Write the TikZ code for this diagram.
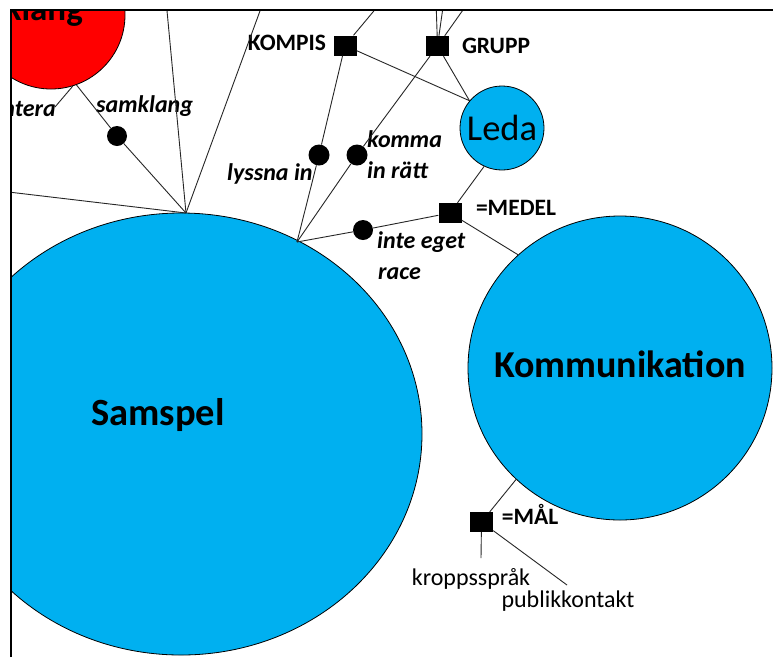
\documentclass[tikz,border=0pt]{standalone}
\usepackage{fontspec}
\setmainfont{Carlito}
\usetikzlibrary{shapes.geometric}
\definecolor{cblue}{HTML}{00B0F0}
\definecolor{cred}{HTML}{FF0000}
\begin{document}
\begin{tikzpicture}[x=1pt,y=-1pt,
  ln/.style={draw=black!85, line width=0.9pt},
  bigc/.style={circle, draw=black, line width=0.8pt, fill=cblue, inner sep=0pt},
  sq/.style={fill=black, minimum width=23pt, minimum height=20pt, inner sep=0pt},
  dotn/.style={circle, fill=black, minimum size=20pt, inner sep=0pt},
  lab/.style={font=\fontsize{23.5}{28}\selectfont\bfseries, inner sep=0pt, anchor=base},
  ilab/.style={font=\fontsize{24}{28}\selectfont\bfseries\itshape, inner sep=0pt, anchor=base west},
  plab/.style={font=\fontsize{24}{28}\selectfont, inner sep=0pt, anchor=base},
  big/.style={font=\fontsize{38.5}{44}\selectfont\bfseries, inner sep=0pt, anchor=base}
]
\useasboundingbox (0,0) rectangle (773,657);
\fill[white] (0,0) rectangle (773,657);
\begin{scope}
\clip (11,10) rectangle (773,657);
% big shapes
\node[bigc, fill=cred, minimum size=148pt] (red) at (51,15) {};
\node[ellipse, draw=black, line width=0.8pt, fill=cblue, inner sep=0pt,
      minimum width=482pt, minimum height=442pt] (samspel) at (181,434) {};
\node[bigc, minimum size=304pt] (komm) at (620,368) {};
\node[bigc, minimum size=84pt, font=\fontsize{36.5}{42}\selectfont] (leda) at (502,128) {Leda};
\node[big, anchor=base east, font=\fontsize{35}{40}\selectfont\bfseries] (samklangtxt) at (83,20) {Samklang};
\node[big] (samspeltxt) at (158,425) {Samspel};
\node[big, font=\fontsize{38}{44}\selectfont\bfseries] (kommtxt) at (620,377) {Kommunikation};
% squares and dots
\node[sq] (kompis) at (345,45.5) {};
\node[sq] (grupp) at (437.5,46) {};
\node[sq] (medel) at (450,213) {};
\node[sq] (mal) at (481.5,522) {};
\node[dotn] (samdot) at (117,136) {};
\node[dotn, minimum size=21pt] (lyssna) at (319,155) {};
\node[dotn, minimum size=21pt] (komma) at (357,155) {};
\node[dotn] (inte) at (363,230) {};
% coordinates
\coordinate (hub1) at (186,213);
\coordinate (hub2) at (297,242);
\coordinate (left1) at (0,191);
\coordinate (top1) at (166,0);
\coordinate (top2) at (264,0);
\coordinate (top3) at (383,0);
\coordinate (top4) at (436,0);
\coordinate (top5) at (444,0);
\coordinate (top6) at (470,0);
\coordinate (teraend) at (55,107);
\coordinate (kroppend) at (481,558);
\coordinate (pubend) at (567,585);
% labels
\node[ilab, anchor=base east] (tera) at (56,116) {presentera};
\node[ilab] (samklang) at (96,112) {samklang};
\node[lab] (kompistxt) at (287,50) {KOMPIS};
\node[lab] (grupptxt) at (496,53) {GRUPP};
\node[ilab] (lyssnatxt) at (227,180) {lyssna in};
\node[ilab] (kommatxt) at (367,147) {komma};
\node[ilab] (inratt) at (367,178) {in rätt};
\node[lab] (medeltxt) at (516,215) {=MEDEL};
\node[ilab] (intetxt) at (377,248) {inte eget};
\node[ilab] (racetxt) at (378,279) {race};
\node[lab] (maltxt) at (530,524) {=MÅL};
\node[plab] (kropp) at (471,585) {kroppsspråk};
\node[plab] (publik) at (568,607) {publikkontakt};
% connectors
\draw[ln] (red.-73) -- (teraend);
\draw[ln] (red.-70) -- (samdot) -- (hub1);
\draw[ln] (left1) -- (hub1);
\draw[ln] (top1) -- (hub1);
\draw[ln] (top2) -- (hub1);
\draw[ln] (top3) -- (kompis);
\draw[ln] (top4) -- (grupp);
\draw[ln] (top5) -- (grupp);
\draw[ln] (top6) -- (grupp);
\draw[ln] (kompis) -- (leda.140);
\draw[ln] (grupp) -- (leda.140);
\draw[ln] (kompis) -- (lyssna) -- (hub2);
\draw[ln] (grupp) -- (komma) -- (hub2);
\draw[ln] (hub2) -- (inte) -- (medel);
\draw[ln] (medel) -- (leda.245);
\draw[ln] (medel) -- (komm.132);
\draw[ln] (komm.227) -- (mal);
\draw[ln] (mal) -- (kroppend);
\draw[ln] (mal) -- (pubend);
\end{scope}
\draw[line width=2pt] (11,657) -- (11,10) -- (773,10);
\end{tikzpicture}
\end{document}
